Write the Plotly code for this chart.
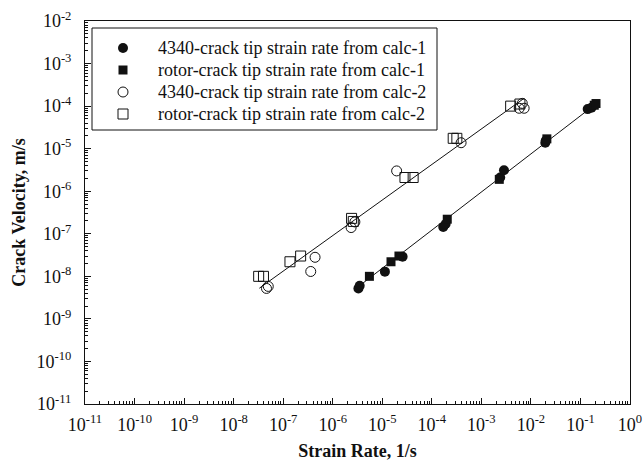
import plotly.graph_objects as go

# Crack tip strain rate vs. crack velocity, two calculation methods
calc1_4340_rate = [3.3e-6, 3.5e-6, 1.13e-5, 2.57e-5, 1.7e-4, 1.9e-4, 2.4e-3, 2.86e-3, 1.95e-2, 2.0e-2, 0.14, 0.167]
calc1_4340_vel = [5.2e-9, 6.0e-9, 1.29e-8, 2.9e-8, 1.45e-7, 1.7e-7, 2.1e-6, 3.1e-6, 1.38e-5, 1.55e-5, 8.5e-5, 9.2e-5]

calc1_rotor_rate = [5.5e-6, 1.5e-5, 2.17e-5, 2.05e-4, 2.3e-3, 2.1e-2, 0.19, 0.206]
calc1_rotor_vel = [1.0e-8, 2.2e-8, 3.0e-8, 2.2e-7, 1.9e-6, 1.7e-5, 1.05e-4, 1.15e-4]

calc2_4340_rate = [4.6e-8, 5.0e-8, 3.6e-7, 4.4e-7, 2.35e-6, 2.8e-6, 1.95e-5, 3.9e-4, 5.8e-3, 6.7e-3, 7.3e-3]
calc2_4340_vel = [5.2e-9, 5.8e-9, 1.3e-8, 2.8e-8, 1.4e-7, 1.9e-7, 3.0e-6, 1.38e-5, 8.9e-5, 1.16e-4, 8.9e-5]

calc2_rotor_rate = [3.2e-8, 4.0e-8, 1.37e-7, 2.25e-7, 2.4e-6, 2.6e-6, 2.87e-5, 4.2e-5, 2.7e-4, 3.2e-4, 3.9e-3, 6.0e-3]
calc2_rotor_vel = [1.0e-8, 1.0e-8, 2.2e-8, 3.0e-8, 2.3e-7, 1.95e-7, 2.1e-6, 2.1e-6, 1.75e-5, 1.75e-5, 1.0e-4, 1.12e-4]

# Power-law fit lines (end points)
fit_calc1_rate = [2.81e-6, 0.212]
fit_calc1_vel = [4.97e-9, 1.16e-4]
fit_calc2_rate = [3.3e-8, 7.2e-3]
fit_calc2_vel = [5.25e-9, 1.51e-4]

series_names = [
    "4340-crack tip strain rate from calc-1",
    "rotor-crack tip strain rate from calc-1",
    "4340-crack tip strain rate from calc-2",
    "rotor-crack tip strain rate from calc-2",
]

x_exponents = list(range(-11, 1))
y_exponents = list(range(-11, -1))

SERIF = "Liberation Serif, Times New Roman, serif"
INK = "#111111"

# Plot-area geometry in pixels (used to place the legend box)
W, H = 643, 468
ML, MR, MT, MB = 85, 13, 21, 64
PW, PH = W - ML - MR, H - MT - MB


def fx(px):
    return (px - ML) / PW


def fy(py):
    return (H - MB - py) / PH


marker_styles = [
    dict(symbol="circle", size=10, color=INK, line=dict(width=0)),
    dict(symbol="square", size=9, color=INK, line=dict(width=0)),
    dict(symbol="circle-open", size=10, color=INK, line=dict(width=1)),
    dict(symbol="square-open", size=10, color=INK, line=dict(width=1)),
]
series_data = [
    (calc1_4340_rate, calc1_4340_vel),
    (calc1_rotor_rate, calc1_rotor_vel),
    (calc2_4340_rate, calc2_4340_vel),
    (calc2_rotor_rate, calc2_rotor_vel),
]

fig = go.Figure()

line_style = dict(color=INK, width=1)
fig.add_trace(go.Scatter(x=fit_calc2_rate, y=fit_calc2_vel, mode="lines",
                         line=line_style, showlegend=False, hoverinfo="skip"))
fig.add_trace(go.Scatter(x=fit_calc1_rate, y=fit_calc1_vel, mode="lines",
                         line=line_style, showlegend=False, hoverinfo="skip"))

for name, (xs, ys), mk in zip(series_names, series_data, marker_styles):
    fig.add_trace(go.Scatter(x=xs, y=ys, mode="markers", name=name,
                             marker=mk, showlegend=False))

# Legend: boxed key markers on an overlay axis plus text labels
legend_left, legend_right = 92, 437
legend_top, legend_bottom = 28, 130
key_x = 123
text_x = 156
row_y = [48, 70, 92, 114]

fig.add_shape(type="rect", xref="paper", yref="paper",
              x0=fx(legend_left), x1=fx(legend_right),
              y0=fy(legend_bottom), y1=fy(legend_top),
              line=dict(color=INK, width=1), fillcolor="white", layer="below")

for name, mk, ry in zip(series_names, marker_styles, row_y):
    fig.add_trace(go.Scatter(x=[fx(key_x)], y=[fy(ry)], mode="markers",
                             marker=mk, xaxis="x2", yaxis="y2",
                             showlegend=False, hoverinfo="skip"))
    fig.add_annotation(x=fx(text_x), y=fy(ry), xref="paper", yref="paper",
                       text=name, showarrow=False, xanchor="left", yanchor="middle",
                       font=dict(family=SERIF, size=18, color=INK))

axis_common = dict(
    type="log",
    automargin=False,
    showgrid=False,
    zeroline=False,
    showline=True,
    linecolor=INK,
    linewidth=1,
    mirror=True,
    ticks="inside",
    ticklen=6,
    tickwidth=1,
    tickcolor=INK,
    tickfont=dict(family=SERIF, size=18, color=INK),
    minor=dict(ticks="inside", ticklen=3, tickwidth=1, tickcolor=INK,
               dtick="D1", showgrid=False),
)

fig.update_layout(
    xaxis=dict(
        **axis_common,
        range=[-11, 0],
        tickmode="array",
        tickvals=[10.0 ** e for e in x_exponents],
        ticktext=[f"10<sup>{e}</sup>" for e in x_exponents],
        ticklabelstandoff=4,
        title=dict(text="<b>Strain Rate, 1/s</b>", font=dict(family=SERIF, size=18, color=INK),
                   standoff=10),
    ),
    yaxis=dict(
        **axis_common,
        range=[-11, -2],
        tickmode="array",
        tickvals=[10.0 ** e for e in y_exponents],
        ticktext=[f"10<sup>{e}</sup>" for e in y_exponents],
        ticklabelstandoff=9,
        title=dict(text="<b>Crack Velocity, m/s</b>", font=dict(family=SERIF, size=18, color=INK),
                   standoff=6),
    ),
    xaxis2=dict(overlaying="x", range=[0, 1], visible=False, fixedrange=True),
    yaxis2=dict(overlaying="y", range=[0, 1], visible=False, fixedrange=True),
    width=W, height=H,
    margin=dict(l=ML, r=MR, t=MT, b=MB),
    paper_bgcolor="white",
    plot_bgcolor="white",
    font=dict(family=SERIF, color=INK),
    showlegend=False,
)

fig.write_html("out.html")
